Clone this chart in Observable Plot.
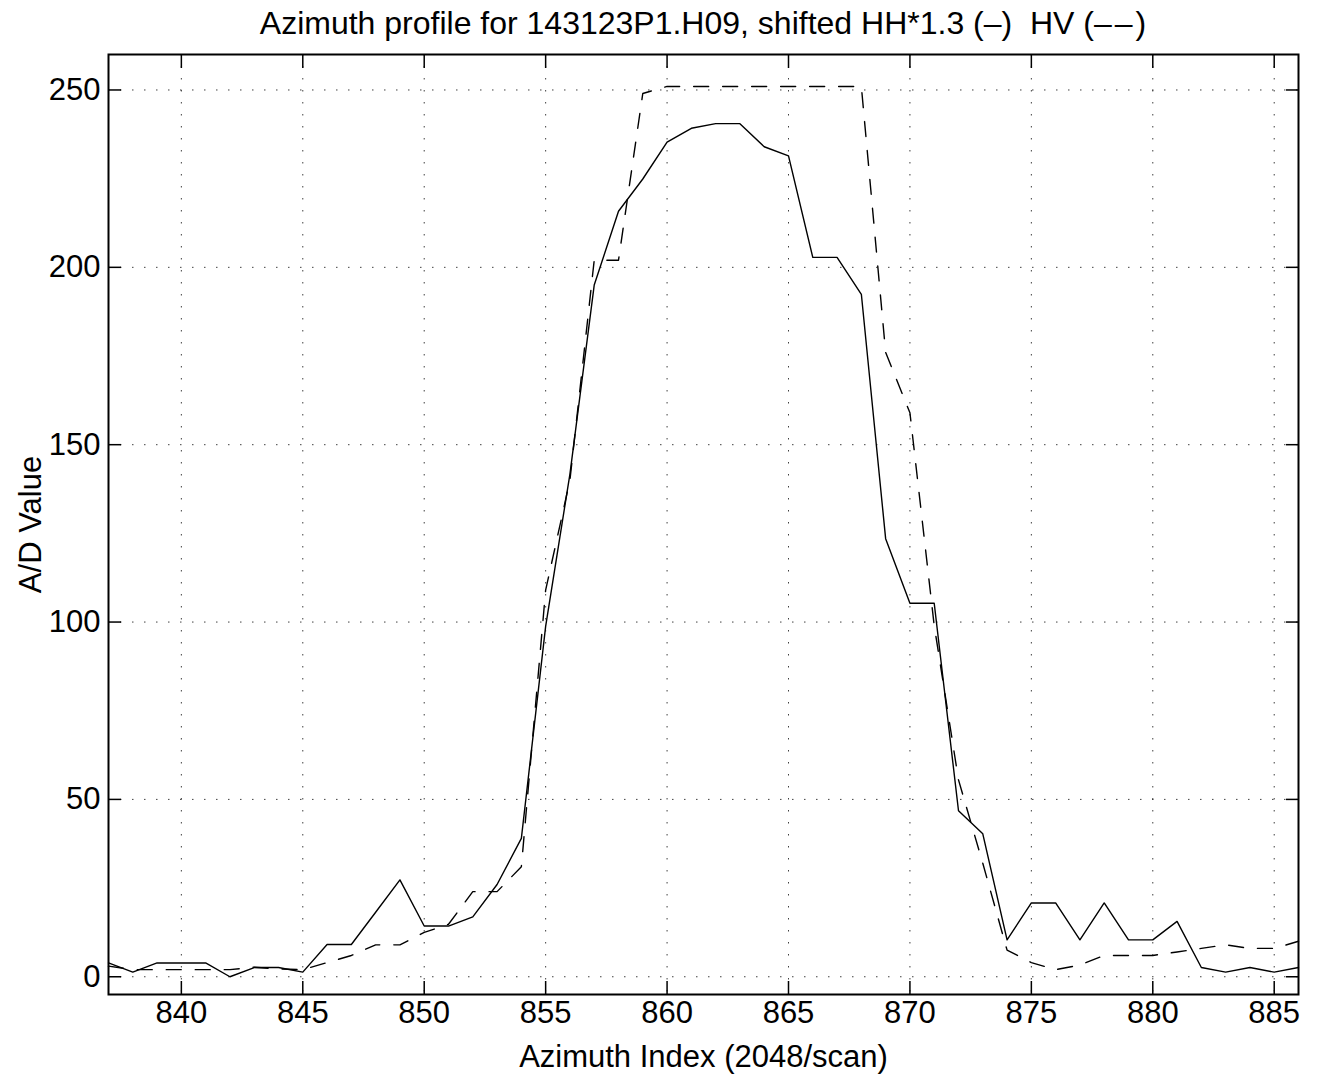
<!DOCTYPE html>
<html>
<head>
<meta charset="utf-8">
<script src="https://cdn.jsdelivr.net/npm/d3@7"></script>
<script src="https://cdn.jsdelivr.net/npm/@observablehq/plot@0.6"></script>
<style>
  body { margin: 0; background: #fff; font-family: "Liberation Sans", Arial, Helvetica, sans-serif; }
  #title { position: relative; height: 40px; width: 1319px; }
  #title span.t { position: absolute; left: 703px; top: 7px; transform: translateX(-50%); font-size: 32px; line-height: 32px; white-space: nowrap; color: #000; }
  #title span.dd { letter-spacing: 3px; }
</style>
</head>
<body>
<div id="title"><span class="t">Azimuth profile for 143123P1.H09, shifted HH*1.3 (–)&nbsp; HV (<span class="dd">––</span>)</span></div>
<div id="chart"></div>
<script>
// Azimuth index (x)
const azimuthIndex = [837,838,839,840,841,842,843,844,845,846,847,848,849,850,851,852,853,854,855,856,
  857,858,859,860,861,862,863,864,865,866,867,868,869,870,871,872,873,874,875,876,
  877,878,879,880,881,882,883,884,885,886];
// Shifted HH*1.3 (solid)
const hhShifted = [3.9,1.3,3.9,3.9,3.9,0,2.6,2.6,1.3,9.1,9.1,18.2,27.3,14.3,14.3,16.9,26.0,39.0,98.8,141.7,
  195.0,215.8,224.9,235.3,239.2,240.5,240.5,234.0,231.4,202.8,202.8,192.4,123.5,105.3,105.3,46.8,40.3,10.4,20.8,20.8,
  10.4,20.8,10.4,10.4,15.6,2.6,1.3,2.6,1.3,2.6];
// HV (dashed)
const hv = [3,2,2,2,2,2,2.7,2.2,2,4,6,9,9,12.5,14.8,24,24,31,109,140,
  202,202,249,251,251,251,251,251,251,251,251,251,176,159,99,55.5,32,7.5,4,2,
  3.3,6,6,6,7,8,9,8,8,10];
const xTicks = [840,845,850,855,860,865,870,875,880,885];
const yTicks = [0,50,100,150,200,250];

const hhData = azimuthIndex.map((x, i) => ({x, y: hhShifted[i]}));
const hvData = azimuthIndex.map((x, i) => ({x, y: hv[i]}));

const chart = Plot.plot({
  width: 1319,
  height: 1036,
  marginTop: 14,
  marginBottom: 82,
  marginLeft: 108,
  marginRight: 21,
  style: {fontFamily: "'Liberation Sans', Arial, Helvetica, sans-serif", fontSize: "31px", background: "#fff", color: "#000", overflow: "visible"},
  x: {domain: [837, 886]},
  y: {domain: [-5, 260]},
  marks: [
    Plot.gridX(xTicks, {stroke: "#000", strokeOpacity: 0.75, strokeWidth: 1, strokeDasharray: "1.5,10.5"}),
    Plot.gridY(yTicks, {stroke: "#000", strokeOpacity: 0.75, strokeWidth: 1, strokeDasharray: "1.5,10.5"}),
    Plot.line(hvData, {x: "x", y: "y", stroke: "#000", strokeWidth: 1.4, strokeDasharray: "15,14"}),
    Plot.line(hhData, {x: "x", y: "y", stroke: "#000", strokeWidth: 1.4}),
    Plot.axisX(xTicks, {anchor: "bottom", tickSize: -13, tickPadding: 19, strokeWidth: 1.5, fontSize: 31, label: "Azimuth Index (2048/scan)", labelAnchor: "center", labelArrow: "none", labelOffset: 72}),
    Plot.axisX(xTicks, {anchor: "top", tickSize: -13, tickFormat: () => "", strokeWidth: 1.5, label: null}),
    Plot.axisY(yTicks, {anchor: "left", tickSize: -13, tickPadding: 21, strokeWidth: 1.5, fontSize: 31, label: "A/D Value", labelAnchor: "center", labelArrow: "none", labelOffset: 90}),
    Plot.axisY(yTicks, {anchor: "right", tickSize: -13, tickFormat: () => "", strokeWidth: 1.5, label: null}),
    Plot.frame({stroke: "#000", strokeWidth: 2})
  ]
});
document.getElementById("chart").appendChild(chart);
</script>
</body>
</html>
